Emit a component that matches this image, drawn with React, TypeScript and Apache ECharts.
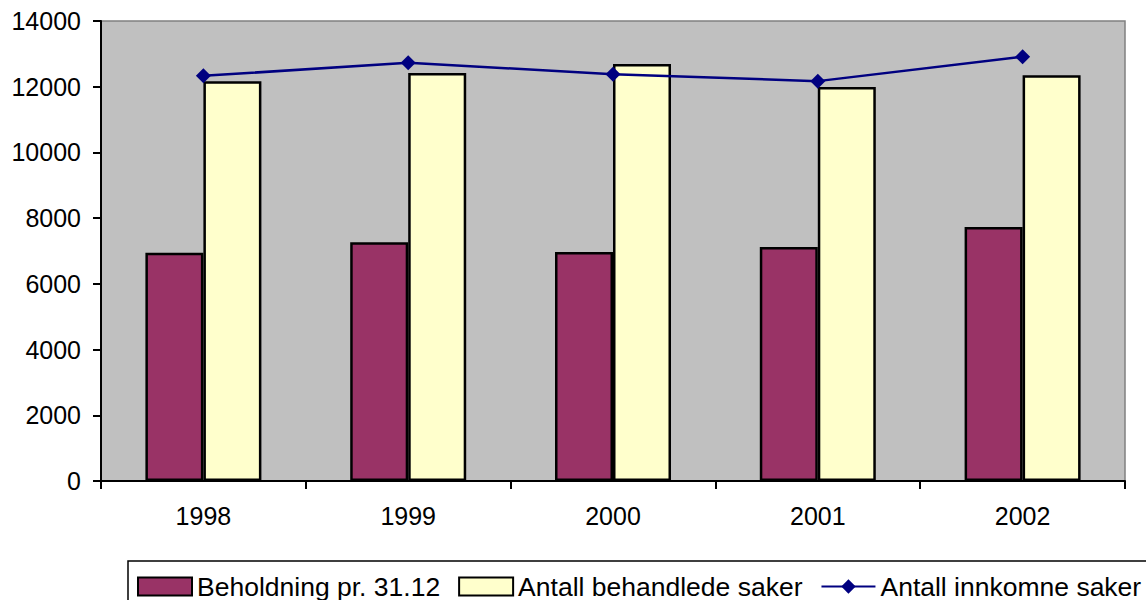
import React, { useEffect, useRef } from "react";
import * as echarts from "echarts";

const categories = ["1998", "1999", "2000", "2001", "2002"];
const beholdning = [6950, 7270, 6970, 7120, 7730];
const behandlede = [12170, 12420, 12690, 11990, 12350];
const innkomne = [12330, 12730, 12380, 12170, 12910];
const yTicks = { min: 0, max: 14000, interval: 2000 };

export default function App() {
  const ref = useRef<HTMLDivElement>(null);
  useEffect(() => {
    if (!ref.current) return;
    const chart = echarts.init(ref.current, null, { renderer: "svg" });
    const font = "Liberation Sans, Arial, sans-serif";
    chart.setOption({
      animation: false,
      backgroundColor: "#ffffff",
      textStyle: { fontFamily: font },
      grid: {
        left: 101,
        top: 21,
        right: 21,
        bottom: 119,
        show: true,
        backgroundColor: "#C0C0C0",
        borderColor: "#808080",
        borderWidth: 1.5,
      },
      graphic: [
        {
          type: "rect",
          shape: { x: 128, y: 561, width: 1040, height: 60 },
          style: { fill: "#ffffff", stroke: "#000000", lineWidth: 1.5 },
          z: 0,
        },
      ],
      legend: {
        left: 137,
        top: 573,
        padding: 0,
        itemWidth: 54,
        itemHeight: 18,
        itemGap: 18,
        textStyle: { fontSize: 26.5, color: "#000000", fontFamily: font },
        z: 10,
        data: [
          { name: "Beholdning pr. 31.12", icon: "rect" },
          { name: "Antall behandlede saker", icon: "rect" },
          { name: "Antall innkomne saker" },
        ],
      },
      xAxis: {
        type: "category",
        data: categories,
        boundaryGap: true,
        axisLine: { lineStyle: { color: "#000000", width: 2 } },
        axisTick: { show: true, length: 8, lineStyle: { color: "#000000", width: 2 } },
        axisLabel: { fontSize: 25, color: "#000000", margin: 22, fontFamily: font },
        splitLine: { show: false },
      },
      yAxis: {
        type: "value",
        min: yTicks.min,
        max: yTicks.max,
        interval: yTicks.interval,
        axisLine: { show: true, lineStyle: { color: "#000000", width: 2 } },
        axisTick: { show: true, length: 8, lineStyle: { color: "#000000", width: 2 } },
        axisLabel: {
          fontSize: 25,
          color: "#000000",
          margin: 20,
          fontFamily: font,
          formatter: (v: number) => String(v),
        },
        splitLine: { show: false },
      },
      series: [
        {
          name: "Beholdning pr. 31.12",
          type: "bar",
          data: beholdning,
          barWidth: 58,
          barGap: "0%",
          itemStyle: { color: "#993366", borderColor: "#000000", borderWidth: 2.5 },
        },
        {
          name: "Antall behandlede saker",
          type: "bar",
          data: behandlede,
          barWidth: 58,
          barGap: "0%",
          itemStyle: { color: "#FFFFCC", borderColor: "#000000", borderWidth: 2.5 },
        },
        {
          name: "Antall innkomne saker",
          type: "line",
          data: innkomne,
          symbol: "diamond",
          symbolSize: 15,
          lineStyle: { color: "#000080", width: 2.5 },
          itemStyle: { color: "#000080" },
          z: 5,
        },
      ],
    });
    return () => chart.dispose();
  }, []);
  return (
    <div
      ref={ref}
      style={{ position: "absolute", left: 0, top: 0, width: 1146, height: 600 }}
    />
  );
}
